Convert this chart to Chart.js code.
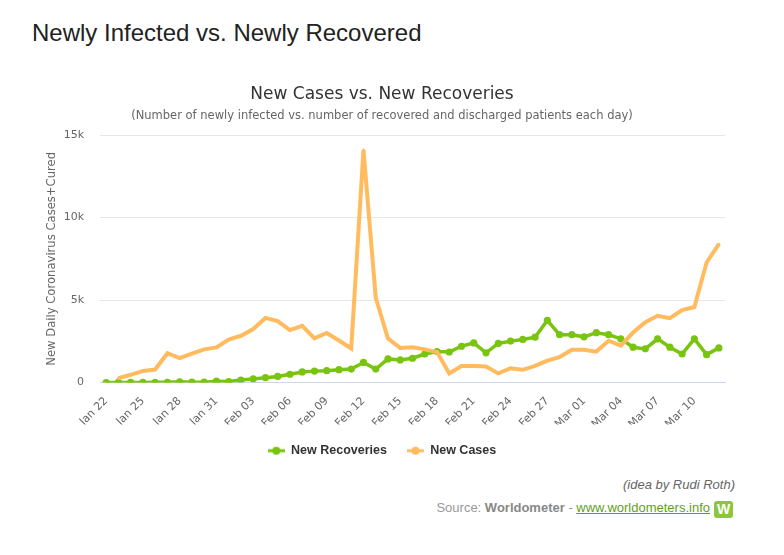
<!DOCTYPE html>
<html>
<head>
<meta charset="utf-8">
<title>Newly Infected vs. Newly Recovered</title>
<script src="https://cdn.jsdelivr.net/npm/chart.js@4.4.1/dist/chart.umd.min.js"></script>
<style>
  body { margin: 0; background: #fff; font-family: 'Liberation Sans', Arial, sans-serif; }
  #pageTitle { position: absolute; left: 32px; top: 19px; font-size: 24px; line-height: 28px; color: #222; white-space: nowrap; }
  #chartBox { position: absolute; left: 0; top: 60px; width: 766px; height: 407px; }
  .foot { position: absolute; right: 49px; font-size: 13px; line-height: 16px; white-space: nowrap; }
  #idea { top: 477px; font-style: italic; color: #666; }
  #source { top: 500px; right: 74px; color: #999; }
  #source b { color: #888; }
  #source a { color: #5f9f1c; text-decoration: underline; }
  #logo { position: absolute; right: 51px; top: 501px; width: 19px; height: 17px; border-radius: 3px; background: #8cc63f; color: #fff; font: bold 14px/17px 'Liberation Sans', Arial, sans-serif; text-align: center; }
</style>
</head>
<body>
<div id="pageTitle">Newly Infected vs. Newly Recovered</div>
<div id="chartBox"><canvas id="myChart"></canvas></div>
<div class="foot" id="idea">(idea by Rudi Roth)</div>
<div class="foot" id="source">Source: <b>Worldometer</b> - <a href="#">www.worldometers.info</a></div>
<div id="logo">W</div>

<script>
// Fechas (eje x)
const dates = [
    'Jan 22', 'Jan 23', 'Jan 24', 'Jan 25', 'Jan 26', 'Jan 27', 'Jan 28', 'Jan 29', 'Jan 30', 'Jan 31',
    'Feb 01', 'Feb 02', 'Feb 03', 'Feb 04', 'Feb 05', 'Feb 06', 'Feb 07', 'Feb 08', 'Feb 09', 'Feb 10',
    'Feb 11', 'Feb 12', 'Feb 13', 'Feb 14', 'Feb 15', 'Feb 16', 'Feb 17', 'Feb 18', 'Feb 19', 'Feb 20',
    'Feb 21', 'Feb 22', 'Feb 23', 'Feb 24', 'Feb 25', 'Feb 26', 'Feb 27', 'Feb 28', 'Feb 29',
    'Mar 01', 'Mar 02', 'Mar 03', 'Mar 04', 'Mar 05', 'Mar 06', 'Mar 07', 'Mar 08', 'Mar 09', 'Mar 10',
    'Mar 11', 'Mar 12'
];

// Nuevas recuperaciones por día
const newRecoveries = [
    0, 2, 6, 3, 13, 9, 46, 19, 17, 79,
    62, 150, 220, 290, 370, 500, 640, 690, 715, 780,
    815, 1220, 815, 1430, 1370, 1470, 1730, 1880, 1850, 2200,
    2400, 1800, 2370, 2510, 2610, 2750, 3770, 2900, 2900,
    2770, 3020, 2900, 2650, 2140, 2040, 2650, 2140, 1730, 2650,
    1690, 2100
];

// Nuevos casos por día
const newCases = [
    null, 265, 468, 701, 786, 1778, 1482, 1755, 2010, 2127,
    2604, 2834, 3239, 3917, 3723, 3182, 3437, 2676, 3001, 2549,
    2068, 14108, 5141, 2666, 2098, 2139, 2010, 1853, 547, 1001,
    1000, 971, 553, 858, 769, 1007, 1328, 1541, 1981,
    1985, 1873, 2533, 2240, 3031, 3661, 4049, 3898, 4398, 4579,
    7279, 8390
];

// Etiquetas del eje y
const yTicks = [0, 5000, 10000, 15000];
const yTickLabels = ['0', '5k', '10k', '15k'];

const greenColor = '#79c40f';
const orangeColor = '#ffbb5e';

// Marcador de leyenda: línea con un punto
function legendMarker(color) {
    let c = document.createElement('canvas');
    c.width = 17;
    c.height = 10;
    let g = c.getContext('2d');
    g.strokeStyle = color;
    g.lineWidth = 3;
    g.beginPath();
    g.moveTo(0, 5);
    g.lineTo(17, 5);
    g.stroke();
    g.fillStyle = color;
    g.beginPath();
    g.arc(8.5, 5, 4, 0, Math.PI * 2);
    g.fill();
    return c;
}
const markers = [legendMarker(greenColor), legendMarker(orangeColor)];

Chart.defaults.font.family = "'DejaVu Sans', sans-serif";

const ctx = document.getElementById('myChart').getContext('2d');
let myChart = new Chart(ctx, {
    type: 'line',
    data: {
        labels: dates,
        datasets: [{
            label: 'New Recoveries',
            data: newRecoveries,
            borderColor: greenColor,
            backgroundColor: greenColor,
            borderWidth: 3.5,
            pointRadius: 3.6,
            pointBorderWidth: 0,
            pointHoverRadius: 3.6,
            tension: 0,
            order: 2
        }, {
            label: 'New Cases',
            data: newCases,
            borderColor: orangeColor,
            backgroundColor: orangeColor,
            borderWidth: 4,
            pointRadius: 1.5,
            pointBorderWidth: 0,
            pointHoverRadius: 2,
            tension: 0,
            order: 1
        }]
    },
    options: {
        responsive: true,
        maintainAspectRatio: false,
        animation: false,
        layout: { padding: { left: 39, right: 41, top: 0, bottom: 0 } },
        plugins: {
            title: {
                display: true,
                text: 'New Cases vs. New Recoveries',
                color: '#333',
                font: { size: 17, weight: 'normal' },
                padding: { top: 24, bottom: 2 }
            },
            subtitle: {
                display: true,
                text: '(Number of newly infected vs. number of recovered and discharged patients each day)',
                color: '#666',
                font: { size: 11.5 },
                padding: { top: 3, bottom: 12 }
            },
            legend: {
                position: 'bottom',
                labels: {
                    usePointStyle: true,
                    pointStyleWidth: 17,
                    padding: 20,
                    color: '#333',
                    font: { family: "'Liberation Sans', Arial, sans-serif", size: 12.5, weight: 'bold' },
                    sort: (a, b) => a.datasetIndex - b.datasetIndex,
                    generateLabels: (chart) => {
                        let items = Chart.defaults.plugins.legend.labels.generateLabels(chart);
                        items.forEach(item => { item.pointStyle = markers[item.datasetIndex]; });
                        return items;
                    }
                }
            },
            tooltip: { enabled: false }
        },
        scales: {
            x: {
                offset: true,
                grid: { display: false, offset: true },
                border: { display: true, color: '#ccd6eb', width: 1 },
                ticks: {
                    autoSkip: false,
                    maxRotation: 45,
                    minRotation: 45,
                    padding: 4,
                    color: '#666',
                    font: { size: 11 },
                    callback: function(value, index) {
                        return index % 3 === 0 ? dates[index] : '';
                    }
                },
                afterFit: (scale) => { scale.height = 42; }
            },
            y: {
                min: 0,
                max: 15000,
                afterBuildTicks: (axis) => { axis.ticks = yTicks.map(v => ({ value: v })); },
                ticks: {
                    padding: 16,
                    color: '#666',
                    font: { size: 11 },
                    callback: function(value) {
                        return yTickLabels[yTicks.indexOf(value)];
                    }
                },
                grid: { color: '#e6e6e6', drawTicks: false },
                border: { display: false },
                title: {
                    display: true,
                    text: 'New Daily Coronavirus Cases+Cured',
                    color: '#666',
                    font: { size: 11.6 },
                    padding: { top: 6, bottom: 0 }
                },
                afterFit: (scale) => { scale.width = 61; }
            }
        }
    }
});
</script>
</body>
</html>
